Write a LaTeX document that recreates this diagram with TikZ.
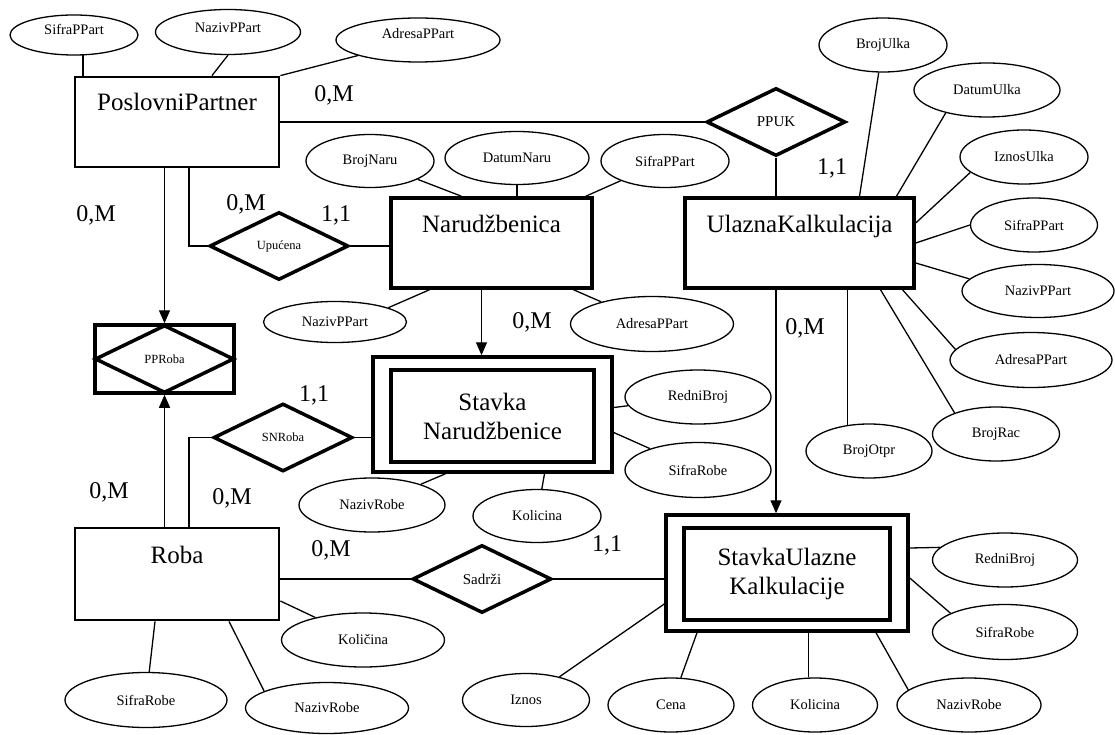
\documentclass[tikz,border=0pt]{standalone}
\usepackage{fontspec}
\setmainfont{Liberation Serif}
\usetikzlibrary{arrows.meta,shapes.geometric}

\begin{document}
\begin{tikzpicture}[x=1pt,y=-1pt,
  ent/.style={draw,line width=2.8pt,inner sep=0pt,minimum width=204pt,text height=34pt,text depth=56pt,font=\fontsize{25}{29}\selectfont},
  entb/.style={ent,line width=3.5pt},
  wbox/.style={draw,line width=3.5pt,inner sep=0pt},
  wtxt/.style={wbox,align=center,font=\fontsize{25}{29}\selectfont},
  rel/.style={draw,diamond,line width=3.5pt,inner sep=0pt,minimum width=139pt,minimum height=68pt,font=\fontsize{12.5}{14}\selectfont},
  attr/.style={draw,ellipse,line width=1.3pt,inner sep=0pt,font=\fontsize{14.5}{17}\selectfont},
  card/.style={font=\fontsize{24}{28}\selectfont},
  lnk/.style={line width=1.3pt},
  arr/.style={lnk,-{Triangle[length=13pt,width=11pt]}}
]
\useasboundingbox (0,0) rectangle (1115,735);

% entiteti
\node[ent] (pp) at (177,122) {PoslovniPartner};
\node[entb,minimum width=201pt,text height=35pt,text depth=55pt] (nar) at (491.5,243) {Narudžbenica};
\node[entb,minimum width=229pt,text height=35pt,text depth=55pt] (uk) at (799.5,243) {UlaznaKalkulacija};
\node[ent,text height=35pt,text depth=57pt] (roba) at (177,574) {Roba};

% slabi entiteti
\node[wbox,minimum width=239pt,minimum height=115pt] (sno) at (492.5,414.5) {};
\node[wtxt,minimum width=203pt,minimum height=92pt] (sn) at (492.5,416) {Stavka\\Narudžbenice};
\node[wbox,minimum width=242pt,minimum height=116pt] (suo) at (787,573) {};
\node[wtxt,minimum width=206pt,minimum height=92pt] (su) at (787,574) {StavkaUlazne\\Kalkulacije};

% veze
\node[wbox,minimum width=139pt,minimum height=68pt] (pprb) at (164.5,359) {};
\node[rel] (ppr) at (164.5,359) {PPRoba};
\node[rel] (upu) at (279,246) {Upućena};
\node[rel] (snr) at (283,437.5) {SNRoba};
\node[rel,font=\fontsize{15}{18}\selectfont] (sad) at (482,579) {Sadrži};
\node[rel,font=\fontsize{15}{18}\selectfont] (ppuk) at (776,122) {PPUK};

% atributi
\node[attr,minimum width=128pt,minimum height=40pt,text depth=12pt] (spp1) at (74,35) {SifraPPart};
\node[attr,minimum width=145pt,minimum height=45pt,text depth=8pt] (npp1) at (228,32) {NazivPPart};
\node[attr,minimum width=164pt,minimum height=44pt,text depth=14pt] (app1) at (418,40) {AdresaPPart};
\node[attr,minimum width=128pt,minimum height=53pt] (bn) at (370,161) {BrojNaru};
\node[attr,minimum width=144pt,minimum height=53pt] (dn) at (517,158) {DatumNaru};
\node[attr,minimum width=128pt,minimum height=53pt] (spp2) at (665,161) {SifraPPart};
\node[attr,minimum width=143pt,minimum height=41pt] (npp2) at (335,322) {NazivPPart};
\node[attr,minimum width=163pt,minimum height=55pt] (app2) at (652,324) {AdresaPPart};
\node[attr,minimum width=128pt,minimum height=54pt] (bu) at (883,45) {BrojUlka};
\node[attr,minimum width=146pt,minimum height=54pt] (du) at (987,90) {DatumUlka};
\node[attr,minimum width=128pt,minimum height=54pt] (iu) at (1024,157) {IznosUlka};
\node[attr,minimum width=127pt,minimum height=54pt] (spp3) at (1034,225) {SifraPPart};
\node[attr,minimum width=152pt,minimum height=53pt] (npp3) at (1038,291) {NazivPPart};
\node[attr,minimum width=162pt,minimum height=55pt] (app3) at (1031,360) {AdresaPPart};
\node[attr,minimum width=126pt,minimum height=54pt] (bo) at (869,451) {BrojOtpr};
\node[attr,minimum width=127pt,minimum height=54pt] (br) at (996,434) {BrojRac};
\node[attr,minimum width=146pt,minimum height=54pt] (rb1) at (698,397) {RedniBroj};
\node[attr,minimum width=146pt,minimum height=55pt] (sr1) at (698,470) {SifraRobe};
\node[attr,minimum width=146pt,minimum height=54pt] (nrm) at (372,505) {NazivRobe};
\node[attr,minimum width=128pt,minimum height=53pt] (kolm) at (537,516) {Kolicina};
\node[attr,minimum width=163pt,minimum height=54pt] (kol2) at (363,640) {Količina};
\node[attr,minimum width=162pt,minimum height=55pt] (sr3) at (146,700) {SifraRobe};
\node[attr,minimum width=163pt,minimum height=51pt] (nr3) at (327,708) {NazivRobe};
\node[attr,minimum width=127pt,minimum height=53pt] (izn) at (526,700) {Iznos};
\node[attr,minimum width=126pt,minimum height=54pt] (cena) at (671,705) {Cena};
\node[attr,minimum width=125pt,minimum height=54pt] (kolb) at (815,705) {Kolicina};
\node[attr,minimum width=144pt,minimum height=54pt] (nrb) at (969,705) {NazivRobe};
\node[attr,minimum width=145pt,minimum height=54pt] (rb2) at (1005,560) {RedniBroj};
\node[attr,minimum width=145pt,minimum height=55pt] (sr2) at (1005,632) {SifraRobe};

% kardinalnosti
\node[card] (k1) at (334,95) {0,M};
\node[card] (k2) at (96,215) {0,M};
\node[card] (k3) at (246,204) {0,M};
\node[card] (k4) at (336,215) {1,1};
\node[card] (k5) at (532,322) {0,M};
\node[card] (k6) at (832,168) {1,1};
\node[card] (k7) at (805,328) {0,M};
\node[card] (k8) at (314,395) {1,1};
\node[card] (k9) at (109,492) {0,M};
\node[card] (k10) at (232,498) {0,M};
\node[card] (k11) at (331,550) {0,M};
\node[card] (k12) at (607,545) {1,1};

% PoslovniPartner
\draw[lnk] (spp1.-66) -- (spp1.-66 |- pp.north);
\draw[lnk] (npp1.south) -- (pp.53);
\draw[lnk] (app1) -- (pp.north east);
\draw[lnk] (pp.east) -- (ppuk.west);
\draw[arr] (pp.south -| pprb.north) -- (pprb.north);
\draw[lnk] ([xshift=12pt]pp.south) |- (upu.west);
\draw[lnk] (upu.east) -- (upu.east -| nar.west);

% Narudzbenica
\draw[lnk] (bn) -- ([xshift=-30pt]nar.north);
\draw[lnk] (dn) -- (dn |- nar.north);
\draw[lnk] (spp2) -- ([xshift=-8pt]nar.north east);
\draw[lnk] (npp2.15) -- ([xshift=-62pt]nar.south);
\draw[lnk] (app2) -- ([xshift=82pt]nar.south);
\draw[arr] ([xshift=-10pt]nar.south) -- ([xshift=-10pt]nar.south |- sno.north);

% UlaznaKalkulacija
\draw[lnk] (ppuk.south) -- (ppuk.south |- uk.north);
\draw[lnk] (bu) -- ([xshift=60pt]uk.north);
\draw[lnk] (du.-151) -- ([xshift=97pt]uk.north);
\draw[lnk] (iu.-164) -- ([yshift=20pt]uk.east);
\draw[lnk] (spp3.west) -- (uk.east);
\draw[lnk] (npp3.170) -- ([yshift=-20pt]uk.east);
\draw[lnk] (app3.172) -- ([xshift=103pt]uk.south);
\draw[lnk] (br.153) -- ([xshift=81pt]uk.south);
\draw[lnk] (bo.130) -- (bo.130 |- uk.south);
\draw[arr] (uk.south -| ppuk.south) -- (ppuk.south |- suo.north);

% Stavka Narudzbenice
\draw[lnk] (snr.east) -- (snr.east -| sno.west);
\draw[lnk] ([xshift=12pt]roba.north) |- (snr.west);
\draw[lnk] (nrm) -- ([xshift=-47pt]sno.south);
\draw[lnk] (kolm) -- ([xshift=52pt]sno.south);
\draw[lnk] ([yshift=7pt]sno.east) -- (rb1);
\draw[lnk] ([yshift=-18pt]sno.east) -- (sr1);

% Roba
\draw[arr] (roba.north -| pprb.south) -- (pprb.south);
\draw[lnk] (roba.east |- sad.west) -- (sad.west);
\draw[lnk] (sad.east) -- (sad.east -| suo.west);
\draw[lnk] ([yshift=-27pt]roba.east) -- (kol2);
\draw[lnk] ([xshift=-22pt]roba.south) -- (sr3);
\draw[lnk] ([xshift=52pt]roba.south) -- (nr3.165);

% StavkaUlazne Kalkulacije
\draw[lnk] ([yshift=-31pt]suo.west) -- (izn);
\draw[lnk] ([xshift=-90pt]suo.south) -- (cena);
\draw[lnk] (kolb.103) -- (kolb.103 |- suo.south);
\draw[lnk] ([xshift=89pt]suo.south) -- (nrb.166);
\draw[lnk] ([yshift=25pt]suo.east) -- (rb2.169);
\draw[lnk] ([yshift=-5pt]suo.east) -- (sr2.161);

\end{tikzpicture}
\end{document}
